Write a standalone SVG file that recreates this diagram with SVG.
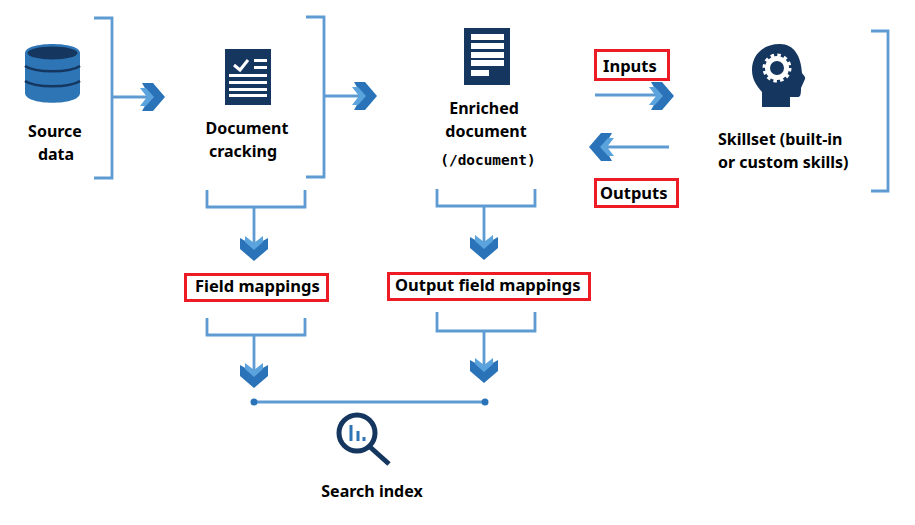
<svg xmlns="http://www.w3.org/2000/svg" width="915" height="525" viewBox="0 0 915 525">
<style>
text{font-family:"Noto Sans","Open Sans","Liberation Sans",sans-serif;font-weight:700;font-size:16px;fill:#000}
.mono{font-family:"DejaVu Sans Mono","Liberation Mono",monospace;font-size:14.400px}
.lab{font-size:16.500px}
.m{text-anchor:middle}
.ln{fill:none;stroke:#5f9bd3;stroke-width:2.800}
.red{fill:none;stroke:#ed1c24;stroke-width:3}
.navy{fill:#14365f}
.wh{fill:#fff}
</style>
<defs>
<g id="chev">
<path d="M-11-14H0L12 0 0 14H-11L-3 0Z" fill="#2b73b8"/>
<path d="M-13-9H-7L1 0-7 9H-13L-6 0Z" fill="#5ba3dc"/>
</g>
</defs>
<rect width="915" height="525" fill="#fff"/>
<g id="connectors">
<path class="ln" d="M94 18H112V178H94M112 97H152"/>
<path class="ln" d="M306 17H324V177H306M324 96H364"/>
<path class="ln" d="M871 31H888V191H871"/>
<path class="ln" d="M595 95H660M669 147H603"/>
<path class="ln" d="M207 190V207H305V190M254 207V245"/>
<path class="ln" d="M437 189V206H535V189M484 206V244"/>
<path class="ln" d="M207 318V335H305V318M254 335V372"/>
<path class="ln" d="M437 312V331H535V312M484 331V367"/>
<use href="#chev" transform="translate(153 97)"/>
<use href="#chev" transform="translate(365 96)"/>
<use href="#chev" transform="translate(662 96)"/>
<use href="#chev" transform="translate(601 147) rotate(180)"/>
<use href="#chev" transform="translate(254 249) rotate(90)"/>
<use href="#chev" transform="translate(484 248) rotate(90)"/>
<use href="#chev" transform="translate(254 376) rotate(90)"/>
<use href="#chev" transform="translate(484 371) rotate(90)"/>
<path class="ln" d="M254 402H485"/>
<circle cx="254" cy="402" r="3.500" fill="#2b73b8"/>
<circle cx="485" cy="402" r="3.500" fill="#2b73b8"/>
</g>
<g id="source-data">
<path d="M25 53C25 41 80 41 80 53V93C80 106 25 106 25 93Z" fill="#2e75b6"/>
<ellipse cx="52.500" cy="53" rx="25" ry="6.500" fill="#14365f"/>
<path d="M25 66C35 73 70 73 80 66M25 81C35 88 70 88 80 81" fill="none" stroke="#14365f" stroke-width="2.500"/>
<text class="m" x="55" y="137">Source</text>
<text class="m" x="56" y="160">data</text>
</g>
<g id="document-cracking">
<rect class="navy" x="225" y="49" width="46" height="56"/>
<path d="M234 65L240 70 248 60" fill="none" stroke="#fff" stroke-width="3"/>
<path class="wh" d="M254 59H267V62H254ZM254 66H267V69H254ZM229 74H267V77H229ZM229 81H267V84H229ZM229 88H267V91H229ZM229 94H267V97H229Z"/>
<text class="m" x="247" y="134">Document</text>
<text class="m" x="243" y="157">cracking</text>
</g>
<g id="enriched-document">
<rect class="navy" x="464" y="28" width="46" height="57"/>
<path class="wh" d="M471 34H504V40H471ZM471 43H504V49H471ZM471 52H504V58H471ZM471 60H504V66H471ZM471 70H489V76H471Z"/>
<text class="m" x="484" y="114">Enriched</text>
<text class="m" x="486" y="137">document</text>
<text class="m mono" x="488" y="165">(/document)</text>
</g>
<g id="skillset">
<path class="navy" d="M780 44C762 44 752 56 752 70C752 80 757 86 762 92V107H790V97H798C801 97 801 92 801 88L805 79C806 77 803 75 802 73C801 56 794 44 780 44Z"/>
<circle cx="777" cy="68" r="9.500" fill="none" stroke="#fff" stroke-width="5"/>
<circle cx="777" cy="68" r="13" fill="none" stroke="#fff" stroke-width="3" stroke-dasharray="3.500 3.300"/>
<text x="718" y="145">Skillset (built-in</text>
<text x="718" y="168">or custom skills)</text>
</g>
<g id="inputs"><rect class="red" x="595.500" y="50.500" width="73" height="29"/><text class="lab" x="603" y="72">Inputs</text></g>
<g id="outputs"><rect class="red" x="595.500" y="179.500" width="82" height="27"/><text class="lab" x="600" y="199">Outputs</text></g>
<g id="field-mappings"><rect class="red" x="185.500" y="274.500" width="142" height="26"/><text class="lab" x="195" y="292">Field mappings</text></g>
<g id="output-field-mappings"><rect class="red" x="388.500" y="273.500" width="201" height="26"/><text class="lab" x="395" y="291">Output field mappings</text></g>
<g id="search-index">
<circle cx="357" cy="433" r="18" fill="#fff" stroke="#14365f" stroke-width="5"/>
<path d="M370 447L389 464" stroke="#14365f" stroke-width="5" fill="none"/>
<path d="M351 425V441M358 431V441M364 437V441" stroke="#2e75b6" stroke-width="3" fill="none"/>
<text class="m" x="372" y="497">Search index</text>
</g>
</svg>
